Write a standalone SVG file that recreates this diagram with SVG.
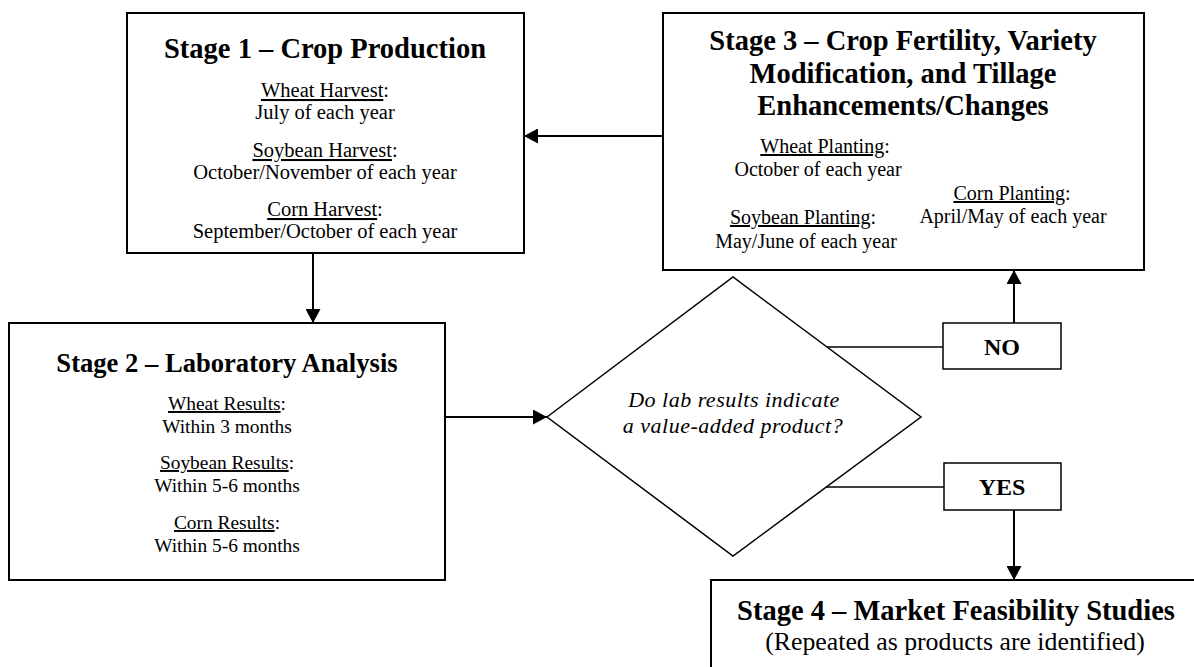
<svg xmlns="http://www.w3.org/2000/svg" width="1194" height="667" viewBox="0 0 1194 667">
<defs>
<style>
text{font-family:"Liberation Serif","Times New Roman",serif;fill:#000;text-anchor:middle}
.t1{font-size:28.5px;font-weight:bold}
.t2{font-size:26.6px;font-weight:bold}
.b1{font-size:20.5px}
.b2{font-size:19.4px}
.b3{font-size:20px}
.q{font-size:22px;font-style:italic;letter-spacing:0.5px}
.yn{font-size:24px;font-weight:bold}
.sub{font-size:25.8px}
.u{text-decoration:underline}
.box{fill:#fff;stroke:#000;stroke-width:2}
.thin{fill:#fff;stroke:#000;stroke-width:1.5}
.con{fill:none;stroke:#000;stroke-width:2}
.conthin{fill:none;stroke:#000;stroke-width:1.5}
</style>
<marker id="ah" markerUnits="userSpaceOnUse" markerWidth="15" markerHeight="15" refX="14" refY="7.5" orient="auto">
<path d="M0,0 L14,7.5 L0,15 Z" fill="#000"/>
</marker>
</defs>
<rect width="1194" height="667" fill="#fff"/>

<g id="stage1">
<rect class="box" x="127" y="13" width="397" height="240"/>
<text class="t1" x="325" y="58">Stage 1 – Crop Production</text>
<text class="b1" x="325" y="97"><tspan class="u">Wheat Harvest</tspan>:</text>
<text class="b1" x="325" y="119">July of each year</text>
<text class="b1" x="325" y="157"><tspan class="u">Soybean Harvest</tspan>:</text>
<text class="b1" x="325" y="179">October/November of each year</text>
<text class="b1" x="325" y="216"><tspan class="u">Corn Harvest</tspan>:</text>
<text class="b1" x="325" y="238">September/October of each year</text>
</g>

<g id="stage3">
<rect class="box" x="663" y="13" width="481" height="257"/>
<text class="t1" x="903" y="50">Stage 3 – Crop Fertility, Variety</text>
<text class="t1" x="903" y="83">Modification, and Tillage</text>
<text class="t1" x="903" y="115">Enhancements/Changes</text>
<text class="b3" x="825" y="153"><tspan class="u">Wheat Planting</tspan>:</text>
<text class="b3" x="818" y="176">October of each year</text>
<text class="b3" x="1012" y="200"><tspan class="u">Corn Planting</tspan>:</text>
<text class="b3" x="1013" y="223">April/May of each year</text>
<text class="b3" x="803" y="224"><tspan class="u">Soybean Planting</tspan>:</text>
<text class="b3" x="806" y="248">May/June of each year</text>
</g>

<g id="stage2">
<rect class="box" x="9" y="323" width="436" height="257"/>
<text class="t2" x="227" y="372">Stage 2 – Laboratory Analysis</text>
<text class="b2" x="227" y="410"><tspan class="u">Wheat Results</tspan>:</text>
<text class="b2" x="227" y="433">Within 3 months</text>
<text class="b2" x="227" y="469"><tspan class="u">Soybean Results</tspan>:</text>
<text class="b2" x="227" y="492">Within 5-6 months</text>
<text class="b2" x="227" y="529"><tspan class="u">Corn Results</tspan>:</text>
<text class="b2" x="227" y="552">Within 5-6 months</text>
</g>

<g id="decision">
<polygon class="thin" points="547,417 733,277 921,417 733,556"/>
<text class="q" x="734" y="407">Do lab results indicate</text>
<text class="q" x="733" y="433">a value-added product?</text>
</g>

<g id="no">
<rect class="thin" x="943" y="323" width="118" height="46"/>
<text class="yn" x="1002" y="355">NO</text>
</g>

<g id="yes">
<rect class="thin" x="944" y="463" width="117" height="47"/>
<text class="yn" x="1002" y="495">YES</text>
</g>

<g id="stage4">
<rect class="box" x="711" y="580" width="500" height="100"/>
<text class="t1" x="956" y="620">Stage 4 – Market Feasibility Studies</text>
<text class="sub" x="955" y="650">(Repeated as products are identified)</text>
</g>

<g id="connectors">
<line class="con" x1="663" y1="136" x2="524" y2="136" marker-end="url(#ah)"/>
<line class="con" x1="313" y1="253" x2="313" y2="323" marker-end="url(#ah)"/>
<line class="con" x1="445" y1="417" x2="547" y2="417" marker-end="url(#ah)"/>
<line class="conthin" x1="827" y1="347" x2="943" y2="347"/>
<line class="conthin" x1="826" y1="487" x2="944" y2="487"/>
<line class="con" x1="1014" y1="323" x2="1014" y2="270" marker-end="url(#ah)"/>
<line class="con" x1="1014" y1="510" x2="1014" y2="580" marker-end="url(#ah)"/>
</g>
</svg>
